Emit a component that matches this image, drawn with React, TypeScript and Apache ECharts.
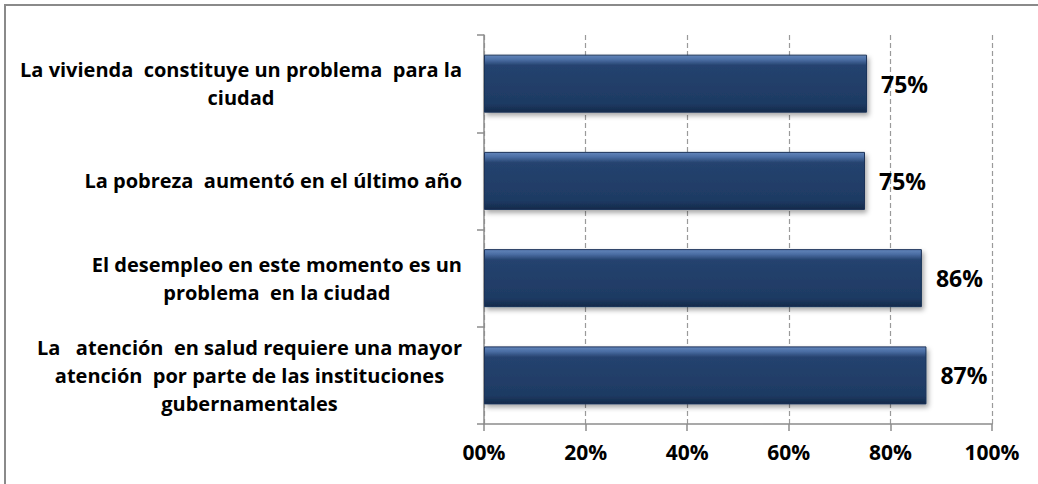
import React, { useEffect, useRef } from "react";
import * as echarts from "echarts";

const categories = [
  "La vivienda  constituye un problema  para la\nciudad",
  "La pobreza  aumentó en el último año",
  "El desempleo en este momento es un\nproblema  en la ciudad",
  "La   atención  en salud requiere una mayor\natención  por parte de las instituciones\ngubernamentales",
];
const values = [75.4, 75.0, 86.2, 87.1];
const xTickLabels: Record<number, string> = { 0: "00%", 20: "20%", 40: "40%", 60: "60%", 80: "80%", 100: "100%" };

const FONT = "'Open Sans', 'Noto Sans', sans-serif";

export default function App() {
  const ref = useRef<HTMLDivElement>(null);
  useEffect(() => {
    if (!ref.current) return;
    const chart = echarts.init(ref.current, null, { renderer: "svg" });
    chart.setOption({
      animation: false,
      backgroundColor: "#ffffff",
      textStyle: { fontFamily: FONT },
      graphic: [
        {
          type: "rect",
          shape: { x: 5, y: 5, width: 1045, height: 495 },
          style: { fill: "none", stroke: "#8a8a8a", lineWidth: 2 },
          silent: true,
        },
      ],
      grid: { left: 484, right: 46, top: 35, bottom: 60, containLabel: false },
      xAxis: {
        type: "value",
        min: 0,
        max: 100,
        interval: 20,
        axisLine: { show: true, lineStyle: { color: "#8c8c8c", width: 1.5 } },
        axisTick: { show: true, length: 7, lineStyle: { color: "#8c8c8c", width: 1.5 } },
        splitLine: {
          show: true,
          lineStyle: { color: "#9a9a9a", type: [5, 3], width: 1.2 },
        },
        axisLabel: {
          formatter: (v: number) => xTickLabels[v] ?? `${v}%`,
          fontFamily: FONT,
          fontWeight: "bold",
          fontSize: 21,
          color: "#000",
          margin: 17,
        },
      },
      yAxis: {
        type: "category",
        data: categories,
        inverse: true,
        axisLine: { show: true, lineStyle: { color: "#8c8c8c", width: 1.5 } },
        axisTick: { show: true, length: 7, lineStyle: { color: "#8c8c8c", width: 1.5 } },
        splitLine: { show: false },
        axisLabel: {
          align: "right",
          margin: 22,
          formatter: (v: string) =>
            v
              .split("\n")
              .map((l) => `{c|${l}}`)
              .join("\n"),
          rich: {
            c: {
              align: "center",
              fontFamily: FONT,
              fontWeight: "bold",
              fontSize: 20,
              lineHeight: 28,
              color: "#000",
            },
          },
        },
      },
      series: [
        {
          type: "bar",
          data: values,
          barWidth: 58,
          itemStyle: {
            color: new echarts.graphic.LinearGradient(0, 0, 0, 1, [
              { offset: 0, color: "#6386bb" },
              { offset: 0.08, color: "#4b6ea4" },
              { offset: 0.18, color: "#25436f" },
              { offset: 0.85, color: "#1e3a63" },
              { offset: 1, color: "#142a4a" },
            ]),
            borderColor: "#1a3358",
            borderWidth: 1,
            shadowColor: "rgba(0,0,0,0.35)",
            shadowBlur: 5,
            shadowOffsetX: 2,
            shadowOffsetY: 3,
          },
          label: {
            show: true,
            position: "right",
            distance: 14,
            formatter: (p: any) => `${Math.round(p.value)}%`,
            fontFamily: FONT,
            fontWeight: "bold",
            fontSize: 23,
            color: "#000",
          },
        },
      ],
    });
    return () => chart.dispose();
  }, []);
  return (
    <div
      ref={ref}
      style={{ position: "fixed", left: 0, top: 0, width: 1038, height: 484 }}
    />
  );
}
